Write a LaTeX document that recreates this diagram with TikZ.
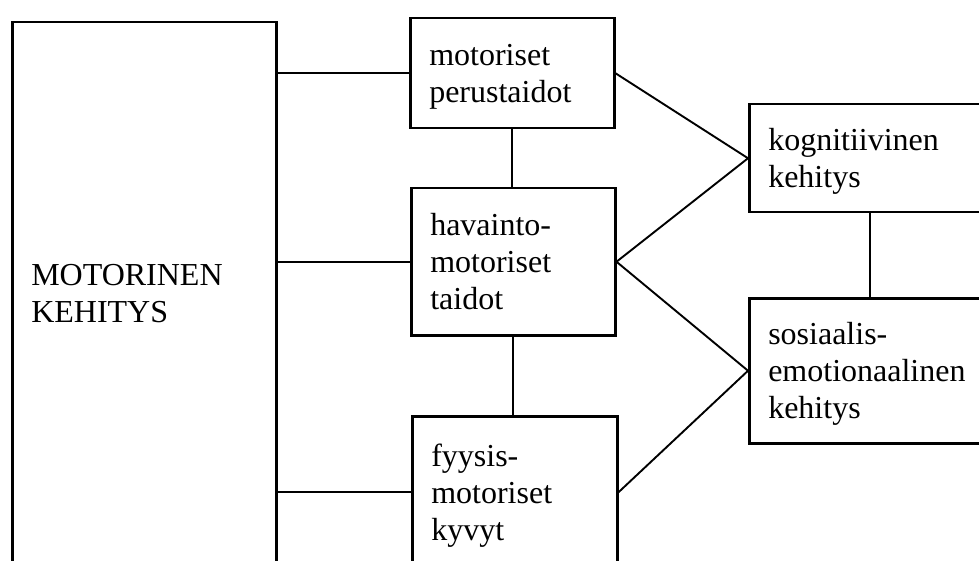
\documentclass[tikz,border=0pt]{standalone}
\usepackage{fontspec}
\setmainfont{Liberation Serif}
\begin{document}
\begin{tikzpicture}[x=1pt,y=-1pt,
  box/.style={draw, line width=2.5pt, anchor=north west, align=left,
    inner xsep=19pt, inner ysep=0pt, font=\fontsize{32}{37}\selectfont,
    execute at begin node={\rule{0pt}{30pt}},
    execute at end node={\rule[-8pt]{0pt}{8pt}}},
  link/.style={line width=1.9pt}]
\useasboundingbox (0,0) rectangle (979,561);
\clip (0,0) rectangle (979,561);
\node[box, minimum width=264pt, minimum height=542pt, text width=226pt] (mk) at (11,21) {MOTORINEN\\KEHITYS};
\node[box, minimum width=204pt, minimum height=110pt, text width=166pt] (b1) at (409,17) {motoriset\\perustaidot};
\node[box, minimum width=204pt, minimum height=147pt, text width=166pt] (b2) at (410,187) {havainto-\\motoriset\\taidot};
\node[box, minimum width=205pt, minimum height=152pt, text width=167pt] (b3) at (411,415) {fyysis-\\motoriset\\kyvyt};
\node[box, minimum width=242pt, minimum height=108pt, text width=204pt] (kog) at (748,103) {kognitiivinen\\kehitys};
\node[box, minimum width=242pt, minimum height=145pt, text width=204pt] (sos) at (748,297) {sosiaalis-\\emotionaalinen\\kehitys};
\draw[link] (mk.east |- b1.west) -- (b1.west);
\draw[link] (mk.east |- b2.west) -- (b2.west);
\draw[link] (mk.east |- b3.west) -- (b3.west);
\draw[link] (b1.south) -- (b1.south |- b2.north);
\draw[link] (b2.south) -- (b2.south |- b3.north);
\draw[link] (kog.south) -- (sos.north);
\draw[link] (b1.east) -- (kog.west);
\draw[link] (b2.east) -- (kog.west);
\draw[link] (b2.east) -- (sos.west);
\draw[link] (b3.east) -- (sos.west);
\end{tikzpicture}
\end{document}
